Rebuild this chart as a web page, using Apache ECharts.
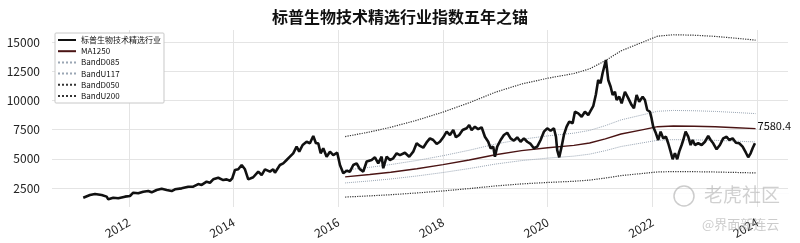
<!DOCTYPE html>
<html><head><meta charset="utf-8">
<script src="https://cdn.jsdelivr.net/npm/echarts@6/dist/echarts.min.js"></script>
<style>html,body{margin:0;padding:0;background:#fff}#c{width:800px;height:243px}</style>
</head><body><div id="c"></div>
<script>
// ---- data (decimal year, index value) ----
const idxYears = [2011.127,2011.255,2011.351,2011.479,2011.574,2011.605,2011.700,2011.796,2011.924,2012.019,2012.082,2012.178,2012.273,2012.369,2012.434,2012.529,2012.625,2012.720,2012.816,2012.879,2013.007,2013.133,2013.228,2013.324,2013.389,2013.484,2013.547,2013.610,2013.706,2013.801,2013.866,2013.929,2013.973,2014.025,2014.088,2014.153,2014.216,2014.279,2014.311,2014.374,2014.407,2014.470,2014.535,2014.598,2014.693,2014.756,2014.789,2014.884,2014.947,2015.012,2015.075,2015.138,2015.203,2015.253,2015.318,2015.394,2015.457,2015.521,2015.572,2015.616,2015.662,2015.712,2015.776,2015.840,2015.903,2015.979,2016.031,2016.094,2016.159,2016.222,2016.285,2016.350,2016.413,2016.476,2016.541,2016.636,2016.699,2016.762,2016.827,2016.858,2016.923,2016.986,2017.049,2017.114,2017.177,2017.272,2017.354,2017.431,2017.496,2017.559,2017.622,2017.686,2017.750,2017.813,2017.878,2017.941,2018.004,2018.069,2018.132,2018.195,2018.246,2018.309,2018.374,2018.451,2018.500,2018.546,2018.609,2018.672,2018.737,2018.800,2018.863,2018.909,2018.959,2018.991,2019.035,2019.100,2019.163,2019.226,2019.291,2019.354,2019.417,2019.482,2019.545,2019.608,2019.673,2019.736,2019.799,2019.864,2019.927,2019.990,2020.055,2020.118,2020.157,2020.181,2020.220,2020.265,2020.309,2020.361,2020.411,2020.476,2020.520,2020.583,2020.648,2020.711,2020.774,2020.810,2020.869,2020.920,2020.964,2021.010,2021.048,2021.074,2021.112,2021.156,2021.202,2021.240,2021.284,2021.316,2021.366,2021.412,2021.475,2021.538,2021.603,2021.647,2021.698,2021.748,2021.813,2021.857,2021.901,2021.952,2021.984,2022.015,2022.067,2022.111,2022.157,2022.206,2022.258,2022.302,2022.348,2022.386,2022.430,2022.474,2022.512,2022.558,2022.589,2022.634,2022.684,2022.730,2022.768,2022.812,2022.875,2022.940,2023.003,2023.066,2023.112,2023.161,2023.226,2023.289,2023.352,2023.417,2023.467,2023.532,2023.595,2023.658,2023.723,2023.786,2023.830,2023.876,2023.914,2023.958];
const idxValues = [1670,1900,1990,1900,1760,1530,1670,1620,1760,1815,2100,2045,2180,2240,2130,2330,2440,2330,2240,2390,2470,2610,2610,2840,2760,3040,2950,3240,3380,3180,3240,3120,3330,4040,4100,4470,4100,3240,3120,3420,3470,3900,3610,4100,3900,4100,3810,4470,4610,4900,5180,5470,6040,5610,6180,6460,6330,6950,6330,6330,5470,5900,5180,5610,5320,5520,4470,3760,3980,3900,4470,4610,4100,3900,4770,4900,5130,4610,5180,4190,5180,4900,5040,5470,5320,5520,5180,5610,6330,6100,5950,6400,6750,6610,6270,6460,6840,7320,7040,7460,6840,7040,7460,7610,7890,7460,7750,7530,7700,6890,6460,5900,6040,5180,6040,6610,7040,7230,6750,6550,6840,6460,6750,6460,6270,5900,6040,6610,7320,7610,7400,7610,6890,5750,5130,6040,7040,7750,8180,8040,9030,8890,8600,9030,8750,9030,9500,10500,11750,11460,12320,12170,13460,11750,11170,10460,10740,10030,10320,9750,10740,10200,9600,9320,10460,9890,10320,10030,9180,9030,8460,7750,7180,6610,7320,6750,6890,6330,5610,4960,5470,4960,5610,6180,6610,7320,6890,6180,6610,6180,6330,6180,6460,6950,6610,6330,5810,6180,6750,6890,6610,6750,6380,6330,6040,5520,5130,5470,5900,6330];

const maYears  = [2016.13,2016.6,2017.0,2017.5,2018.0,2018.5,2019.0,2019.5,2020.0,2020.5,2020.8,2021.1,2021.4,2021.8,2022.1,2022.4,2022.8,2023.2,2023.6,2023.97];
const ma1250   = [3450,3650,3850,4150,4500,4900,5350,5700,5950,6150,6350,6700,7120,7480,7750,7810,7790,7740,7660,7580.4];
const bandD085 = [2933,3103,3273,3528,3825,4165,4548,4845,5058,5228,5398,5695,6052,6358,6588,6639,6622,6579,6511,6443];
const bandU117 = [4037,4271,4505,4856,5265,5733,6260,6669,6962,7196,7430,7839,8330,8752,9068,9138,9114,9056,8962,8869];
const bandD050 = [1725,1825,1925,2075,2250,2450,2675,2850,2975,3075,3175,3350,3560,3740,3875,3905,3895,3870,3830,3790];
const bandU200 = [6900,7300,7700,8300,9000,9800,10700,11400,11900,12300,12700,13400,14240,14960,15500,15620,15580,15480,15320,15161];

const xTicks = [2012,2014,2016,2018,2020,2022,2024];
const yTicks = [2500,5000,7500,10000,12500,15000];
const seriesNames = ['标普生物技术精选行业','MA1250','BandD085','BandU117','BandD050','BandU200'];
const titleText = '标普生物技术精选行业指数五年之锚';
const endLabelText = '7580.4';

// ---- build ----
const pair = (xs, ys) => xs.map((x, i) => [x, ys[i]]);
const FONT = '"Noto Sans CJK SC","Noto Sans",sans-serif';
const chart = echarts.init(document.getElementById('c'), null, {renderer: 'canvas'});
const lineBase = {type: 'line', symbol: 'none', showSymbol: false, animation: false, silent: true};

chart.setOption({
  backgroundColor: '#fff',
  textStyle: {fontFamily: FONT},
  title: {text: titleText, left: 'center', top: 4,
    textStyle: {fontSize: 16, fontWeight: 'bold', color: '#111', fontFamily: FONT}},
  grid: {left: 52, right: 12, top: 30, bottom: 36},
  legend: {
    data: seriesNames, orient: 'vertical', left: 55, top: 33,
    itemWidth: 18, itemHeight: 8, itemGap: 3.2,
    padding: [3, 3, 3, 2],
    borderColor: '#c8c8c8', borderWidth: 1, backgroundColor: '#fff', borderRadius: 1,
    itemStyle: {opacity: 0},
    textStyle: {fontSize: 8, color: '#111', fontFamily: FONT, lineHeight: 8},
    selectedMode: false
  },
  xAxis: {
    type: 'value', min: 2010.53, max: 2024.59,
    axisLine: {show: false},
    axisTick: {show: false, customValues: xTicks},
    axisLabel: {customValues: xTicks, rotate: 30, fontSize: 12, color: '#222', margin: 14,
      formatter: v => String(Math.round(v)), fontFamily: FONT},
    splitLine: {show: true, lineStyle: {color: '#e4e4e4', width: 1}}
  },
  yAxis: {
    type: 'value', min: 873, max: 16027,
    axisLine: {show: false},
    axisTick: {show: false, customValues: yTicks},
    axisLabel: {customValues: yTicks, fontSize: 12, color: '#222', margin: 12, fontFamily: FONT,
      formatter: v => String(Math.round(v))},
    splitLine: {show: true, lineStyle: {color: '#e4e4e4', width: 1}}
  },
  series: [
    Object.assign({}, lineBase, {name: 'bandBase', data: pair(maYears, bandD085), stack: 'band',
      lineStyle: {opacity: 0}, z: 1}),
    Object.assign({}, lineBase, {name: 'bandFill', data: pair(maYears, bandU117.map((u, i) => u - bandD085[i])), stack: 'band',
      lineStyle: {opacity: 0}, areaStyle: {color: 'rgba(200,200,205,0.28)'}, z: 1}),
    Object.assign({}, lineBase, {name: seriesNames[0], data: pair(idxYears, idxValues),
      lineStyle: {color: '#111', width: 2.6}, itemStyle: {color: '#111'}, z: 6}),
    Object.assign({}, lineBase, {name: seriesNames[1], data: pair(maYears, ma1250),
      lineStyle: {color: '#4a1414', width: 1.4}, itemStyle: {color: '#111'}, z: 5,
      endLabel: {show: true, formatter: endLabelText, fontSize: 11, color: '#111', distance: 2, offset: [0, -3], fontFamily: FONT}}),
    Object.assign({}, lineBase, {name: seriesNames[2], data: pair(maYears, bandD085),
      lineStyle: {color: '#9aa6b4', width: 1, type: 'dotted'}, itemStyle: {color: '#9aa6b4'}, z: 3}),
    Object.assign({}, lineBase, {name: seriesNames[3], data: pair(maYears, bandU117),
      lineStyle: {color: '#9aa6b4', width: 1, type: 'dotted'}, itemStyle: {color: '#9aa6b4'}, z: 3}),
    Object.assign({}, lineBase, {name: seriesNames[4], data: pair(maYears, bandD050),
      lineStyle: {color: '#333', width: 1.2, type: 'dotted'}, itemStyle: {color: '#333'}, z: 3}),
    Object.assign({}, lineBase, {name: seriesNames[5], data: pair(maYears, bandU200),
      lineStyle: {color: '#333', width: 1.2, type: 'dotted'}, itemStyle: {color: '#333'}, z: 3})
  ],
  graphic: [
    {type: 'circle', shape: {cx: 684, cy: 196, r: 10}, style: {fill: 'none', stroke: 'rgba(170,170,170,0.6)', lineWidth: 1.5}, z: 100},
    {type: 'text', left: 704, top: 185, style: {text: '老虎社区', fontSize: 19, fill: 'rgba(170,170,170,0.55)', fontFamily: FONT}, z: 100},
    {type: 'text', left: 702, top: 218, style: {text: '@界面新连云', fontSize: 13, fill: 'rgba(170,170,170,0.6)', fontFamily: FONT}, z: 100}
  ]
});
</script></body></html>
